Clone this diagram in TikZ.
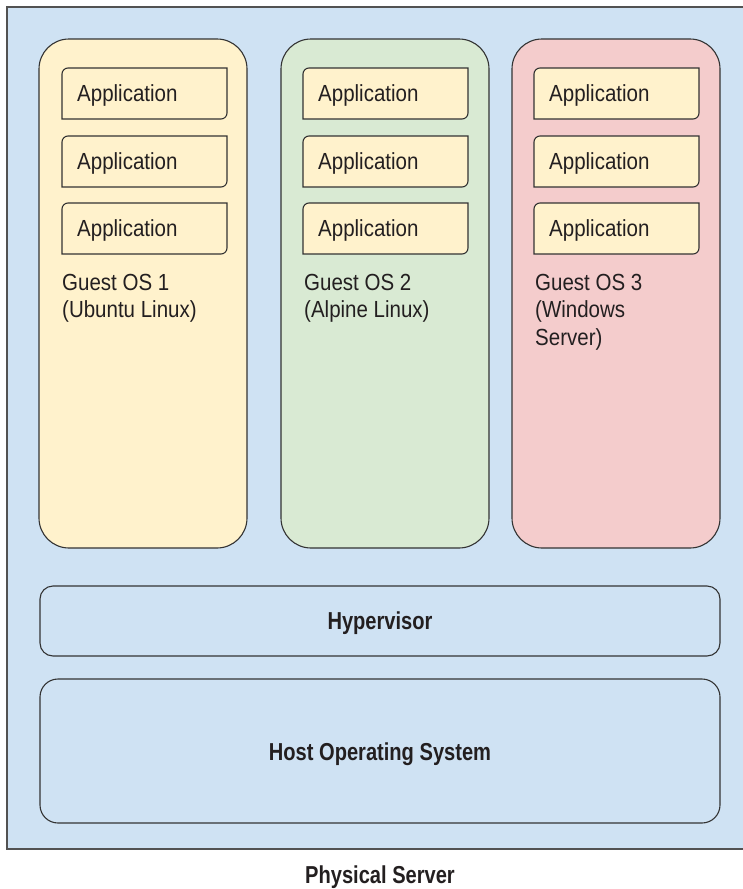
\documentclass[tikz,border=0pt]{standalone}
\usepackage{fontspec}
\setmainfont{Liberation Sans}
\newfontfamily\regfont{Liberation Sans}[FakeStretch=0.88]
\newfontfamily\boldfont{Liberation Sans}[FakeStretch=0.82]
\definecolor{serverblue}{HTML}{CFE2F3}
\definecolor{osyellow}{HTML}{FFF2CC}
\definecolor{osgreen}{HTML}{D9EAD3}
\definecolor{ospink}{HTML}{F4CCCC}
\definecolor{lineclr}{HTML}{333333}
\definecolor{textclr}{HTML}{231F20}
\begin{document}
\begin{tikzpicture}[x=1pt,y=-1pt,
  osbox/.style={draw=lineclr,line width=1.1pt,rounded corners=30pt},
  layerbox/.style={draw=lineclr,line width=1.1pt},
  appline/.style={draw=lineclr,line width=1.1pt,fill=osyellow},
  apptext/.style={inner sep=0pt,anchor=base west,text=textclr,font=\regfont\fontsize{23.3}{27.5}\selectfont},
  ostext/.style={inner sep=0pt,anchor=north west,align=left,text=textclr,font=\regfont\fontsize{23.3}{27.5}\selectfont},
  boldtext/.style={inner sep=0pt,anchor=base,text=textclr,font=\boldfont\bfseries\fontsize{24.5}{28}\selectfont}]
\useasboundingbox (0,0) rectangle (743,889);
\begin{scope}
\clip (0,0) rectangle (743,889);
% outer physical server
\draw[draw=lineclr!85,line width=1.4pt,fill=serverblue] (7,7) rectangle (800,849);
\end{scope}
% guest OS boxes
\draw[osbox,fill=osyellow] (39,39) rectangle (247,548);
\draw[osbox,fill=osgreen] (281,39) rectangle (489,548);
\draw[osbox,fill=ospink] (512,39) rectangle (720,548);
% application boxes
\foreach \gx/\g in {62/a,303/b,534/c}{
  \foreach \ty/\k in {68/1,136/2,203/3}{
    \coordinate (\g\k nw) at (\gx,\ty);
    \coordinate (\g\k se) at (\gx+165,\ty+51);
    \draw[appline] (\g\k nw |- \g\k se) -- ([yshift=-6pt]\g\k nw)
      arc[start angle=180,end angle=90,radius=6pt]
      -- (\g\k se |- \g\k nw) -- ([yshift=6pt]\g\k se)
      arc[start angle=0,end angle=-90,radius=6pt] -- cycle;
    \node[apptext] (\g\k) at (\gx+15,\ty+33.5) {Application};
  }
}
% guest OS labels
\node[ostext] (g1) at (62,274) {Guest OS 1\\(Ubuntu Linux)};
\node[ostext] (g2) at (304,274) {Guest OS 2\\(Alpine Linux)};
\node[ostext] (g3) at (535,274) {Guest OS 3\\(Windows\\Server)};
% hypervisor
\draw[layerbox,rounded corners=13pt] (40,586) rectangle (720,656);
\node[boldtext] (hyp) at (380,629.5) {Hypervisor};
% host OS
\draw[layerbox,rounded corners=18pt] (40,679) rectangle (720,823);
\node[boldtext] (host) at (380,760) {Host Operating System};
% caption
\node[boldtext] (phys) at (380,883) {Physical Server};
\end{tikzpicture}
\end{document}
